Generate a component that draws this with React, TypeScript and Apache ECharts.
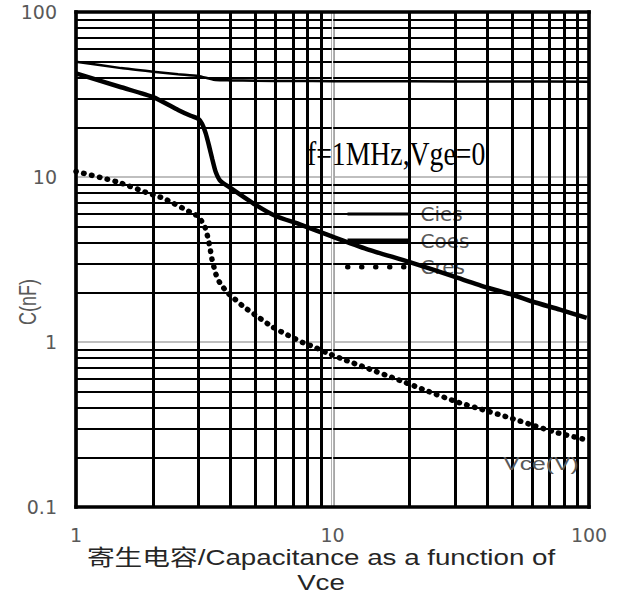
import React, { useEffect, useRef } from "react";
import * as echarts from "echarts";

// Collector-emitter voltage (V) and capacitances (nF)
const vceCies = [1, 1.5, 2, 2.5, 3, 3.3, 3.5, 4, 5, 7, 10, 20, 50, 100];
const cies = [50, 45.7, 43.5, 42, 41, 39.5, 38.7, 38.5, 38.3, 38.2, 38.1, 38, 37.9, 37.8];

const vceCoes = [1, 1.5, 2, 2.5, 2.8, 3, 3.1, 3.2, 3.3, 3.4, 3.5, 3.65, 4, 5, 6, 7.5, 10, 13.6, 20, 30, 40, 50, 60, 77, 98];
const coes = [42.5, 35, 30.5, 25.5, 23.5, 22.5, 21, 18.5, 15.5, 12.8, 10.8, 9.5, 8.6, 6.8, 5.8, 5.15, 4.35, 3.66, 3.05, 2.48, 2.14, 1.94, 1.76, 1.57, 1.4];

const vceCres = [1, 1.45, 2, 2.18, 2.78, 3, 3.18, 3.27, 3.33, 3.39, 3.51, 3.64, 3.91, 4.16, 4.47, 5.12, 5.85, 6.7, 7.68, 8.3, 9.5, 10.9, 13.6, 17.8, 23.4, 30.6, 38.3, 49.2, 61.6, 75.7, 96];
const cres = [10.8, 9.33, 7.78, 7.46, 6.14, 5.75, 4.98, 4.27, 3.71, 3.18, 2.58, 2.28, 1.98, 1.82, 1.65, 1.42, 1.23, 1.1, 0.99, 0.946, 0.86, 0.79, 0.695, 0.595, 0.505, 0.433, 0.39, 0.347, 0.31, 0.281, 0.257];

// Grid lines (axis values)
const minorX = [2, 3, 4, 5, 6, 7, 8, 9, 20, 30, 40, 50, 60, 70, 80, 90];
const minorY = [0.2, 0.3, 0.4, 0.5, 0.6, 0.7, 0.8, 0.9, 2, 3, 4, 5, 6, 7, 8, 9, 20, 30, 40, 50, 60, 70, 80, 90];
const borderX = [1, 100];
const borderY = [0.1, 100];
const majorX = [10];

const seriesNames = ["Cies", "Coes", "Cres"];

const zip = (xs: number[], ys: number[]) => xs.map((x, i) => [x, ys[i]]);

export default function App() {
  const ref = useRef<HTMLDivElement>(null);
  useEffect(() => {
    if (!ref.current) return;
    const chart = echarts.init(ref.current, undefined, { renderer: "svg" });
    const labelFont = { color: "#595959", fontSize: 19, fontFamily: "DejaVu Sans" };
    const gridLines: any[] = [];
    minorX.forEach((v) => gridLines.push({ xAxis: v, lineStyle: { color: "#000", width: 3 } }));
    minorY.forEach((v) => gridLines.push({ yAxis: v, lineStyle: { color: "#000", width: 2 } }));
    majorX.forEach((v) => gridLines.push({ xAxis: v, lineStyle: { color: "#fff", width: 1.3 } }));
    borderX.forEach((v) => gridLines.push({ xAxis: v, lineStyle: { color: "#000", width: 3.5, cap: "square" } }));
    borderY.forEach((v) => gridLines.push({ yAxis: v, lineStyle: { color: "#000", width: 3.5, cap: "square" } }));

    const hiddenSymbol = { opacity: 0, borderWidth: 0, color: "rgba(0,0,0,0)", borderColor: "rgba(0,0,0,0)" };

    const option: any = {
      animation: false,
      color: ["#000"],
      grid: { left: 76, right: 35, top: 12, bottom: 89 },
      xAxis: {
        type: "log",
        logBase: 10,
        min: 1,
        max: 100,
        axisLine: { show: false },
        axisTick: { show: false },
        splitLine: { show: true, lineStyle: { color: "#a6a6a6", width: 4 } },
        axisLabel: { ...labelFont, margin: 18 },
      },
      yAxis: {
        type: "log",
        logBase: 10,
        min: 0.1,
        max: 100,
        axisLine: { show: false },
        axisTick: { show: false },
        splitLine: { show: true, lineStyle: { color: "#bfbfbf", width: 2 } },
        axisLabel: {
          ...labelFont,
          margin: 19,
          formatter: (v: number) => String(+Number(v).toPrecision(3)),
        },
      },
      legend: {
        orient: "vertical",
        left: 345,
        top: 204,
        padding: 0,
        itemWidth: 63,
        itemHeight: 20,
        itemGap: 6.5,
        selectedMode: false,
        itemStyle: hiddenSymbol,
        textStyle: { color: "#595959", fontSize: 20, fontFamily: "DejaVu Sans", padding: [0, 0, 0, 5] },
        data: [
          { name: seriesNames[0], itemStyle: hiddenSymbol, lineStyle: { color: "#000", width: 3, type: "solid", opacity: 1 } },
          { name: seriesNames[1], itemStyle: hiddenSymbol, lineStyle: { color: "#000", width: 4, type: "solid", opacity: 1 } },
          { name: seriesNames[2], itemStyle: hiddenSymbol, lineStyle: { color: "#000", width: 5, type: [0.5, 13.5], cap: "round", opacity: 1 } },
        ],
      },
      series: [
        {
          type: "line",
          data: [],
          silent: true,
          z: 1,
          markLine: {
            silent: true,
            symbol: ["none", "none"],
            label: { show: false },
            emphasis: { disabled: true },
            lineStyle: { type: "solid" },
            data: gridLines,
          },
        },
        {
          name: seriesNames[0],
          type: "line",
          data: zip(vceCies, cies),
          symbol: "none",
          showSymbol: false,
          smooth: 0.2,
          z: 5,
          itemStyle: { color: "#000" },
          lineStyle: { color: "#000", width: 2.5 },
        },
        {
          name: seriesNames[1],
          type: "line",
          data: zip(vceCoes, coes),
          symbol: "none",
          showSymbol: false,
          smooth: 0.2,
          z: 5,
          itemStyle: { color: "#000" },
          lineStyle: { color: "#000", width: 4.5 },
        },
        {
          name: seriesNames[2],
          type: "line",
          data: zip(vceCres, cres),
          symbol: "none",
          showSymbol: false,
          smooth: 0.2,
          z: 5,
          itemStyle: { color: "#000" },
          lineStyle: { color: "#000", width: 5.5, type: [0.5, 7.5], cap: "round" },
        },
      ],
      graphic: [
        {
          type: "text",
          x: 307,
          y: 154,
          scaleX: 0.84,
          z: 10,
          style: {
            text: "f=1MHz,Vge=0",
            font: "33px 'Liberation Serif'",
            fill: "#000",
            textAlign: "left",
            textVerticalAlign: "middle",
          },
        },
        {
          type: "text",
          x: 541,
          y: 464,
          scaleX: 1.3,
          z: 10,
          style: {
            text: "Vce(V)",
            font: "19px 'Liberation Sans'",
            fill: "#595959",
            textAlign: "center",
            textVerticalAlign: "middle",
          },
        },
        {
          type: "text",
          x: 28,
          y: 302,
          rotation: Math.PI / 2,
          scaleY: 1.3,
          z: 10,
          style: {
            text: "C(nF)",
            font: "18px 'Liberation Sans'",
            fill: "#595959",
            textAlign: "center",
            textVerticalAlign: "middle",
          },
        },
        {
          type: "text",
          x: 321,
          y: 557,
          scaleX: 1.26,
          z: 10,
          style: {
            text: "寄生电容/Capacitance as a function of",
            font: "22px 'Liberation Sans', 'Noto Sans CJK SC'",
            fill: "#262626",
            textAlign: "center",
            textVerticalAlign: "middle",
          },
        },
        {
          type: "text",
          x: 321,
          y: 582,
          scaleX: 1.26,
          z: 10,
          style: {
            text: "Vce",
            font: "22px 'Liberation Sans'",
            fill: "#262626",
            textAlign: "center",
            textVerticalAlign: "middle",
          },
        },
      ],
    };
    chart.setOption(option);
    return () => chart.dispose();
  }, []);
  return <div ref={ref} style={{ width: 624, height: 596, position: "absolute", left: 0, top: 0 }} />;
}
